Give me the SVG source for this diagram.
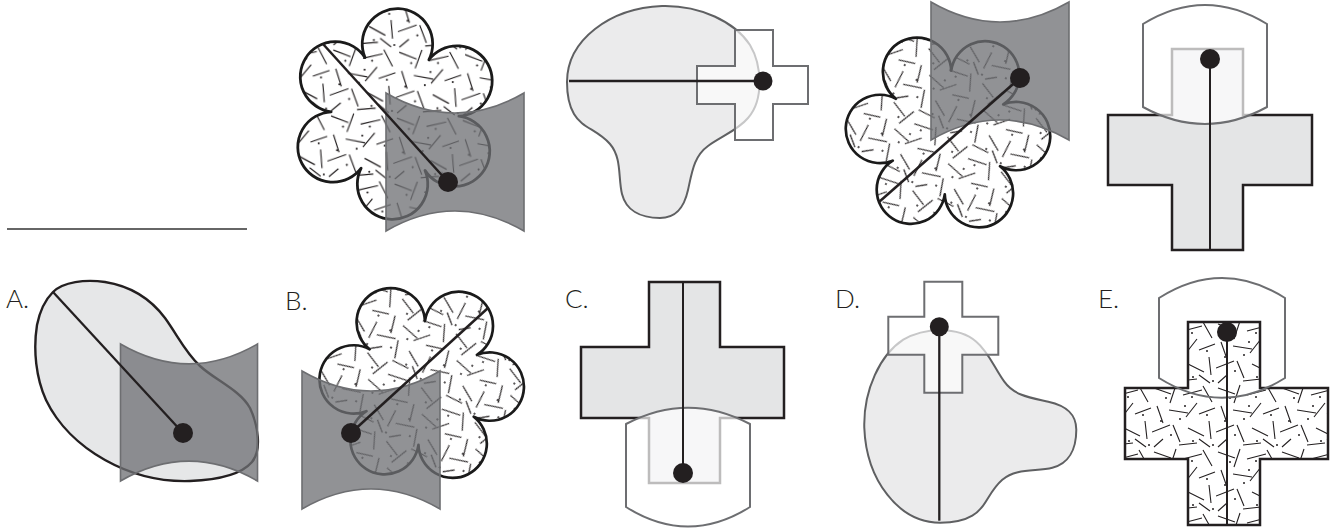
<svg xmlns="http://www.w3.org/2000/svg" xmlns:xlink="http://www.w3.org/1999/xlink" width="1336" height="528" viewBox="0 0 1336 528">
<style>
.flower{fill:url(#tex);stroke:#1a1a1a;stroke-width:2.7;stroke-linejoin:round}
.gray{fill:#6e7074;fill-opacity:.76;stroke:#6d6e71;stroke-width:1.6}
.ln{stroke:#231f20;stroke-width:2.5;fill:none}
.lnv{stroke:#231f20;stroke-width:2;fill:none}
.dot{fill:#231f20}
.blob{fill:#ebebec;stroke:#5f6062;stroke-width:2}
.wcross{fill:#fff;fill-opacity:.65;stroke:#6d6e71;stroke-width:2}
.gcross{fill:#e4e5e6;stroke:#231f20;stroke-width:2.5}
.tcross{fill:url(#tex);stroke:#231f20;stroke-width:2.5}
.shield{fill:#fff;fill-opacity:.7;stroke:#6d6e71;stroke-width:2}
.shieldline{fill:none;stroke:#6d6e71;stroke-width:2}
.blobA{fill:#e6e7e8;stroke:#231f20;stroke-width:2.4}
.lbl{font-family:Lato,"Liberation Sans",sans-serif;font-weight:300;font-size:26px;fill:#231f20}
</style>
<defs>
<pattern id="tex" width="64" height="64" patternUnits="userSpaceOnUse">
<rect width="64" height="64" fill="#fff"/>
<path d="M2 4l17 6M24 1l-6 18M31 11l19-5M51 2l9 16M5 22l6 17M17 26l19 3M45 19l-11 14M47 30l16-6M0 48l18-7M21 41l7 17M36 44l16 8M57 37l2 18M11 55l-9 8M27 61l18-2M47 55l11 8" stroke="#231f20" stroke-width="1.1" fill="none"/>
<g fill="#231f20"><circle cx="14" cy="14" r="1"/><circle cx="40" cy="13" r="1"/><circle cx="28" cy="35" r="1"/><circle cx="55" cy="31" r="1"/><circle cx="9" cy="37" r="1"/><circle cx="41" cy="57" r="1"/><circle cx="19" cy="51" r="1"/><circle cx="61" cy="61" r="1"/><circle cx="33" cy="22" r="1"/></g>
</pattern>
<path id="flowerShape" d="M62,0 A34.2,34.2 0 1,1 31,53.69 A34.2,34.2 0 1,1 -31,53.69 A34.2,34.2 0 1,1 -62,0 A34.2,34.2 0 1,1 -31,-53.69 A34.2,34.2 0 1,1 31,-53.69 A34.2,34.2 0 1,1 62,0 Z"/>
<path id="concShape" d="M0,0 Q69,40 138,0 L138,138 Q69,98 0,138 Z"/>
<path id="blobShape" d="M567,82 C567,40 610,8 662,6 C700,5 735,22 750,45 C762,65 764,100 748,118 C738,130 722,136 708,146 C694,156 692,172 688,190 C684,208 676,218 660,218 C640,218 626,210 622,194 C618,178 622,158 610,144 C598,130 582,128 574,114 C568,104 567,92 567,82 Z"/>
<path id="smallCross" d="M735,30 H773 V66 H808 V104 H773 V140 H735 V104 H697 V66 H735 Z"/>
</defs>

<line id="rule" x1="7" y1="229" x2="247" y2="229" stroke="#333" stroke-width="1.4"/>

<g id="top1">
<use href="#flowerShape" class="flower" transform="translate(395,114) rotate(2) scale(1.03)"/>
<use href="#concShape" class="gray" transform="translate(386,93)"/>
<line class="ln" x1="323" y1="44" x2="448" y2="182"/>
<circle class="dot" cx="448" cy="182" r="10"/>
</g>

<g id="top2">
<use href="#blobShape" class="blob"/>
<use href="#smallCross" class="wcross"/>
<line class="ln" x1="569" y1="81" x2="763" y2="81" style="stroke-width:2.3"/>
<circle class="dot" cx="763" cy="81" r="9.5"/>
</g>

<g id="top3">
<use href="#flowerShape" class="flower" transform="translate(948,132.5) rotate(33)"/>
<use href="#concShape" class="gray" transform="translate(931,2)"/>
<line class="ln" x1="879" y1="202" x2="1020" y2="78"/>
<circle class="dot" cx="1020" cy="78" r="10"/>
</g>

<g id="top4">
<path class="gcross" d="M1172,49 H1243 V115 H1312 V185 H1243 V250 H1172 V185 H1108 V115 H1172 Z"/>
<path class="shield" d="M1143,24 Q1205,-14 1267,24 V107 Q1205,141 1143,107 Z"/>
<line class="lnv" x1="1210" y1="59" x2="1210" y2="250"/>
<circle class="dot" cx="1210" cy="59" r="10"/>
</g>

<g id="panelA">
<text class="lbl" x="6" y="308">A.</text>
<path class="blobA" d="M53,292 C63,282 85,279 105,282 C130,286 150,298 165,318 C178,336 185,352 200,366 C215,380 240,390 250,408 C258,425 262,450 252,462 C240,476 215,480 190,481 C160,482 130,474 105,460 C80,446 58,425 46,400 C36,378 33,350 37,325 C40,310 45,300 53,292 Z"/>
<use href="#concShape" class="gray" transform="translate(120.5,344) scale(0.993)"/>
<line class="ln" x1="53" y1="292" x2="183" y2="433" style="stroke-width:2.3"/>
<circle class="dot" cx="183" cy="433" r="10"/>
</g>

<g id="panelB">
<text class="lbl" x="285" y="310">B.</text>
<use href="#flowerShape" class="flower" transform="translate(421.7,383) rotate(33)"/>
<use href="#concShape" class="gray" transform="translate(302,371)"/>
<line class="ln" x1="488" y1="308" x2="351" y2="433"/>
<circle class="dot" cx="351" cy="433" r="10"/>
</g>

<g id="panelC">
<text class="lbl" x="565" y="308">C.</text>
<path class="gcross" d="M649,282 H720 V347 H784 V418 H720 V483 H649 V418 H581 V347 H649 Z"/>
<path class="shield" d="M626,424 Q688,391.4 750,424 V507 Q688,546 626,507 Z"/>
<line class="lnv" x1="683" y1="282" x2="683" y2="473"/>
<circle class="dot" cx="683" cy="473" r="10"/>
</g>

<g id="panelD">
<text class="lbl" x="835" y="308">D.</text>
<g transform="translate(939.3,326.7) rotate(-90) translate(-763,-81)">
<use href="#blobShape" class="blob"/>
<use href="#smallCross" class="wcross"/>
<line class="ln" x1="569" y1="81" x2="763" y2="81" style="stroke-width:2.3"/>
<circle class="dot" cx="763" cy="81" r="9.5"/>
</g>
</g>

<g id="panelE">
<text class="lbl" x="1098" y="308">E.</text>
<path d="M1159,298 Q1222,258 1285,298 V378 Q1222,417.5 1159,378 Z" fill="#fff"/>
<path class="tcross" d="M1188,322 H1260 V388 H1328 V459 H1260 V525 H1188 V459 H1125 V388 H1188 Z"/>
<path class="shieldline" d="M1159,298 Q1222,258 1285,298 V378 Q1222,417.5 1159,378 Z"/>
<line class="lnv" x1="1227" y1="332" x2="1227" y2="525"/>
<circle class="dot" cx="1227" cy="332" r="10"/>
</g>
</svg>
